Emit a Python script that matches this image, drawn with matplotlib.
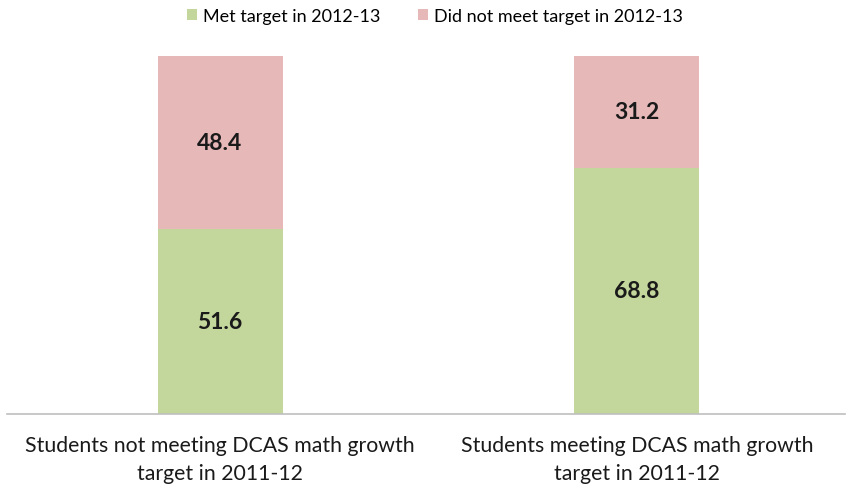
import matplotlib
matplotlib.use("Agg")
import matplotlib.pyplot as plt

categories = ["Students not meeting DCAS math growth\ntarget in 2011-12",
              "Students meeting DCAS math growth\ntarget in 2011-12"]
met = [51.6, 68.8]
not_met = [48.4, 31.2]
series_names = ["Met target in 2012-13", "Did not meet target in 2012-13"]

plt.rcParams['font.family'] = ['Lato', 'DejaVu Sans']

fig = plt.figure(figsize=(8.48, 4.89), dpi=100)
W, H = 848, 489
ax = fig.add_axes([7 / W, (H - 415) / H, 838 / W, (415 - 57) / H])

x = list(range(len(categories)))
green = "#c3d69b"
pink = "#e6b9b8"
b1 = ax.bar(x, met, width=0.30, color=green, label=series_names[0])
b2 = ax.bar(x, not_met, width=0.30, bottom=met, color=pink, label=series_names[1])

for i in x:
    ax.text(i, met[i] / 2, f"{met[i]:.1f}", ha="center", va="center",
            fontsize=16.5, fontweight="bold", color="#1a1a1a")
    ax.text(i, met[i] + not_met[i] / 2, f"{not_met[i]:.1f}", ha="center", va="center",
            fontsize=16.5, fontweight="bold", color="#1a1a1a")

ax.set_xlim(-0.511, 1.499)
ax.set_ylim(0, 100)
ax.set_yticks([])
ax.set_xticks(x)
ax.set_xticklabels(categories, fontsize=15.3, color="#1a1a1a", linespacing=1.5)
ax.tick_params(axis="x", length=0, pad=15)
for s in ["top", "left", "right"]:
    ax.spines[s].set_visible(False)
ax.spines["bottom"].set_color("#bfbfbf")
ax.spines["bottom"].set_linewidth(1.2)

fig.legend(handles=[b1, b2], loc="upper center", bbox_to_anchor=(435 / W, 1.0),
           ncol=2, frameon=False, fontsize=13, handlelength=0.55, handleheight=0.55,
           columnspacing=2.1, handletextpad=0.35, borderaxespad=0.1)

fig.savefig("out.png", dpi=100)
